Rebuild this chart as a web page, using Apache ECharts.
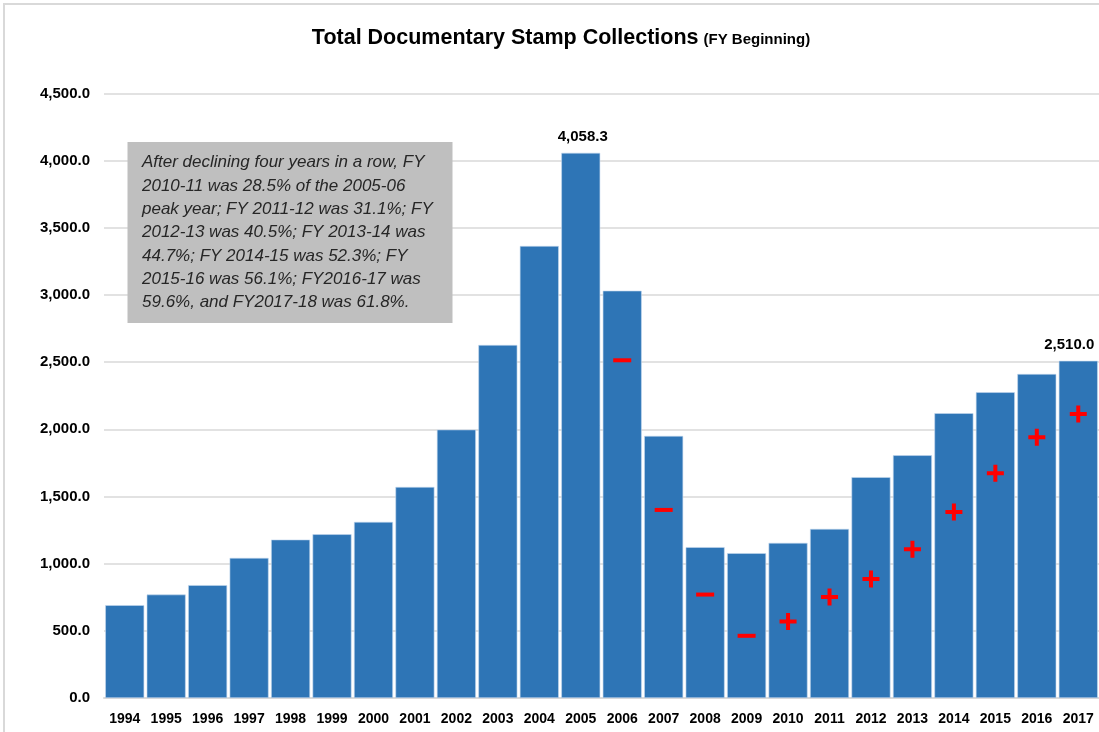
<!DOCTYPE html>
<html>
<head>
<meta charset="utf-8">
<title>Total Documentary Stamp Collections</title>
<script src="https://cdn.jsdelivr.net/npm/echarts@6/dist/echarts.min.js"></script>
<style>
  html, body { margin: 0; padding: 0; background: #fff; }
  #chart { width: 1099px; height: 732px; }
</style>
</head>
<body>
<div id="chart"></div>
<script>
// fiscal years (FY beginning)
const years = ["1994", "1995", "1996", "1997", "1998", "1999", "2000", "2001", "2002", "2003", "2004", "2005",
  "2006", "2007", "2008", "2009", "2010", "2011", "2012", "2013", "2014", "2015", "2016", "2017"]

// total collections
const collections = [691, 770, 840, 1043, 1179, 1219, 1311, 1571, 1998, 2628, 3365, 4058.3,
  3032, 1951, 1123, 1078, 1155, 1259, 1644, 1807, 2120, 2276, 2412, 2510.0]

// red +/- markers drawn inside the bars
const markerValues = [null, null, null, null, null, null, null, null, null, null, null, null,
  2514, 1400, 770, 463, 569, 751, 885, 1108, 1385, 1673, 1941, 2115]
const markerSigns = ["", "", "", "", "", "", "", "", "", "", "", "",
  "-", "-", "-", "-", "+", "+", "+", "+", "+", "+", "+", "+"]

// bars that get a value label
const labelledYears = ["2005", "2017"]

const yTicks = { min: 0, max: 4500, interval: 500 }

const noteText = [
  "After declining four years in a row, FY",
  "2010-11 was 28.5% of the 2005-06",
  "peak year; FY 2011-12 was 31.1%; FY",
  "2012-13 was 40.5%; FY 2013-14 was",
  "44.7%; FY 2014-15 was 52.3%; FY",
  "2015-16 was 56.1%; FY2016-17 was",
  "59.6%, and FY2017-18 was 61.8%."
]

const PLUS = "path://M0,6.5h6.5V0h4v6.5h6.5v4h-6.5V17h-4v-6.5H0z"
const fontFamily = "Liberation Sans, Arial, sans-serif"

function fmt(v) {
  return v.toLocaleString("en-US", { minimumFractionDigits: 1, maximumFractionDigits: 1 })
}

const chart = echarts.init(document.getElementById("chart"))

const markerData = markerValues.map((v, i) => {
  if (v == null) return null
  const plus = markerSigns[i] === "+"
  return {
    value: [years[i], v],
    symbol: plus ? PLUS : "rect",
    symbolSize: plus ? [17, 17] : [18, 4]
  }
}).filter(d => d)

chart.setOption({
  animation: false,
  textStyle: { fontFamily },
  title: {
    text: "{main|Total Documentary Stamp Collections} {sub|(FY Beginning)}",
    left: 556,
    top: 22,
    textAlign: "center",
    textStyle: {
      rich: {
        main: { fontSize: 21.5, fontWeight: "bold", color: "#000", fontFamily },
        sub: { fontSize: 15, fontWeight: "bold", color: "#000", fontFamily, padding: [4, 0, 0, 0] }
      }
    }
  },
  grid: { left: 104, right: 0, top: 93.5, bottom: 34 },
  xAxis: {
    type: "category",
    data: years,
    axisLine: { lineStyle: { color: "#d9d9d9", width: 2 } },
    axisTick: { show: false },
    axisLabel: { color: "#000", fontWeight: "bold", fontSize: 14, margin: 14 }
  },
  yAxis: {
    type: "value",
    min: yTicks.min,
    max: yTicks.max,
    interval: yTicks.interval,
    axisLine: { show: false },
    axisTick: { show: false },
    axisLabel: { color: "#000", fontWeight: "bold", fontSize: 15, margin: 14, formatter: fmt },
    splitLine: { lineStyle: { color: "#d9d9d9", width: 1.5 } }
  },
  series: [
    {
      type: "bar",
      data: collections.map((v, i) => ({
        value: v,
        label: {
          show: labelledYears.includes(years[i]),
          position: "top",
          formatter: p => fmt(p.value),
          color: "#000",
          fontWeight: "bold",
          fontSize: 15,
          distance: 8,
          offset: i === years.length - 1 ? [-9, 0] : [2, 0]
        }
      })),
      barCategoryGap: "6%",
      itemStyle: { color: "#2E75B6", borderColor: "#c5d9ee", borderWidth: 0.6 },
      z: 2
    },
    {
      type: "scatter",
      data: markerData,
      itemStyle: { color: "#ff0000", opacity: 1 },
      z: 3
    }
  ],
  graphic: [
    {
      type: "rect",
      shape: { x: 4, y: 4, width: 1200, height: 800 },
      style: { fill: "none", stroke: "#d9d9d9", lineWidth: 2 },
      silent: true
    },
    {
      type: "rect",
      shape: { x: 127.5, y: 142, width: 325, height: 181 },
      style: { fill: "#bfbfbf" },
      z: 10
    },
    {
      type: "text",
      left: 142,
      top: 151,
      z: 11,
      style: {
        text: noteText.join("\n"),
        fontFamily,
        fontStyle: "italic",
        fontSize: 17,
        lineHeight: 23.3,
        fill: "#262626"
      }
    }
  ]
})
</script>
</body>
</html>
